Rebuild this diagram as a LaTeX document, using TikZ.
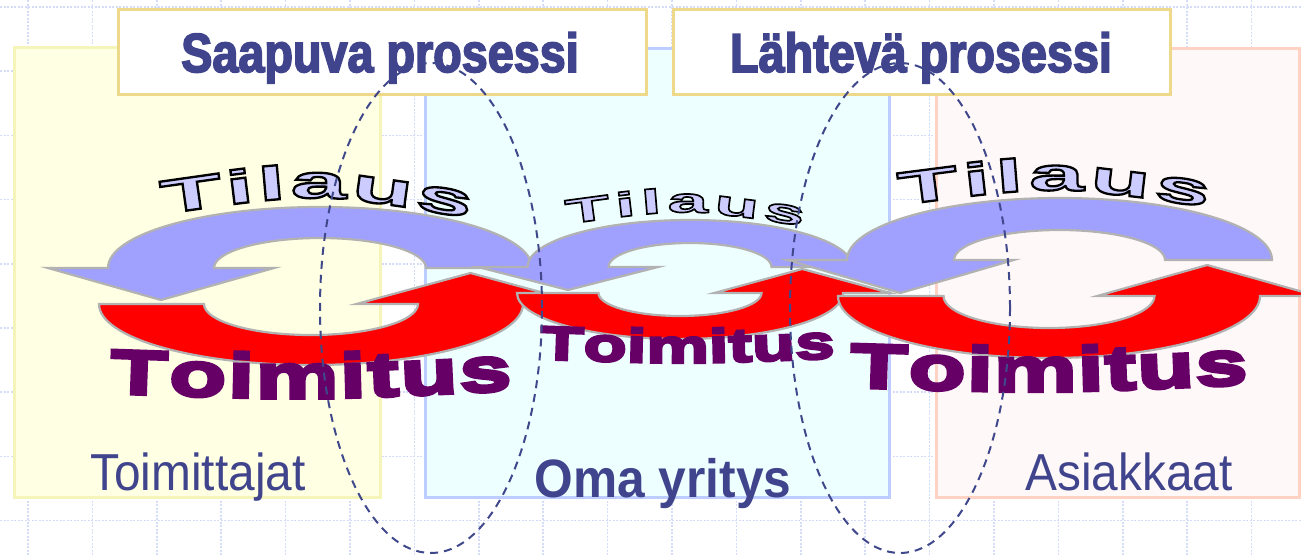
\documentclass[tikz,border=0pt]{standalone}
\usepackage{fontspec}
\usetikzlibrary{decorations.text}

\newfontfamily\titlefont[FakeStretch=0.85,FakeBold=3]{Liberation Sans}
\newfontfamily\labelfont[FakeStretch=0.92]{Liberation Sans}
\newfontfamily\tilausfont[FakeStretch=2.15,FakeBold=5]{Liberation Sans}
\newfontfamily\toimfont[FakeStretch=1.5,FakeBold=6]{Liberation Sans}

\definecolor{gridc}{RGB}{212,220,250}
\definecolor{yelfill}{RGB}{255,255,227}
\definecolor{yeledge}{RGB}{245,245,185}
\definecolor{cyanfill}{RGB}{238,255,255}
\definecolor{cyanedge}{RGB}{190,205,255}
\definecolor{pinkfill}{RGB}{255,248,248}
\definecolor{pinkedge}{RGB}{255,210,195}
\definecolor{titleedge}{RGB}{238,216,138}
\definecolor{textblue}{RGB}{64,68,140}
\definecolor{arrowblue}{RGB}{160,160,255}
\definecolor{arrowred}{RGB}{255,0,0}
\definecolor{arrowedge}{RGB}{178,178,178}
\definecolor{tilfill}{RGB}{204,204,255}
\definecolor{toifill}{RGB}{102,0,102}
\definecolor{dashc}{RGB}{64,72,140}

\tikzset{
  gridline/.style={gridc, line width=1.5pt, dash pattern=on 2pt off 1.5pt},
  area/.style={line width=3pt},
  titlebox/.style={draw=titleedge, fill=white, line width=3pt},
  titletext/.style={font=\titlefont\bfseries\fontsize{55}{55}\selectfont, text=textblue, inner sep=0pt, anchor=base},
  labeltext/.style={font=\labelfont\fontsize{52}{52}\selectfont, text=textblue, inner sep=0pt, anchor=base},
  arrowshape/.style={draw=arrowedge, line width=2.2pt, line join=miter},
  boundary/.style={dashc, line width=2pt, dash pattern=on 8pt off 6pt},
}

% upper half-ring arrow with its head on the left, pointing down
% #1 centre x, #2 base y, #3/#4 outer radii, #5/#6 inner radii, #7 head half width, #8 head depth
\newcommand\upperarrow[8]{%
  \path[arrowshape, fill=arrowblue] ({#1+#3},-#2)
    arc[start angle=0, end angle=180, x radius=#3pt, y radius=#4pt]
    -- ({#1-(#3+#5)/2-#7},-#2) -- ({#1-(#3+#5)/2},{-#2-#8})
    -- ({#1-(#3+#5)/2+#7},-#2) -- ({#1-#5},-#2)
    arc[start angle=180, end angle=0, x radius=#5pt, y radius=#6pt] -- cycle;}
% lower half-ring arrow with its head on the right, pointing up
\newcommand\lowerarrow[8]{%
  \path[arrowshape, fill=arrowred] ({#1-#3},-#2)
    arc[start angle=180, end angle=360, x radius=#3pt, y radius=#4pt]
    -- ({#1+(#3+#5)/2+#7},-#2) -- ({#1+(#3+#5)/2},{-#2+#8})
    -- ({#1+(#3+#5)/2-#7},-#2) -- ({#1+#5},-#2)
    arc[start angle=360, end angle=180, x radius=#5pt, y radius=#6pt] -- cycle;}

% outlined "Tilaus" word along a curve: #1 size, #2 path
% (lavender glyph fill, the emboldening stroke in black)
\newcommand\orderword[2]{%
  \path[decorate, decoration={text along path, text align={fit to path},
    text={|\tilausfont\bfseries\fontsize{#1}{#1}\selectfont\color{tilfill}\pgfsetstrokecolor{black}|Tilaus}}] #2;}
% "Toimitus" word along a curve
\newcommand\deliveryword[2]{%
  \path[decorate, decoration={text along path, text align={fit to path},
    text={|\toimfont\bfseries\fontsize{#1}{#1}\selectfont\color{toifill}|Toimitus}}] #2;}

\begin{document}
\begin{tikzpicture}[x=1pt, y=1pt]
\useasboundingbox (0,0) rectangle (1301,-555);
\fill[white] (0,0) rectangle (1301,-555);

% background grid
\foreach \gx in {0,...,20} \draw[gridline] ({28+64.4*\gx},0) -- ({28+64.4*\gx},-555);
\foreach \gy in {0,...,8} \draw[gridline] (0,{-7-64.2*\gy}) -- (1301,{-7-64.2*\gy});

% the three parties
\draw[area, draw=yeledge, fill=yelfill] (14,-47) rectangle (380,-497);
\draw[area, draw=cyanedge, fill=cyanfill] (425,-48) rectangle (889,-497);
\draw[area, draw=pinkedge, fill=pinkfill] (936,-48) rectangle (1299,-497);

% process headings
\node[titlebox, minimum width=528pt, minimum height=85pt] (inbox) at (382,-51.5) {};
\node[titlebox, minimum width=497pt, minimum height=85pt] (outbox) at (921.5,-51.5) {};

% order / delivery cycles
\upperarrow{320}{268}{212}{61}{106}{30}{113}{32}
\lowerarrow{311}{304}{212}{61}{107}{31}{114}{31}
\upperarrow{690}{267}{162.5}{47}{81.5}{24}{90}{23}
\lowerarrow{680}{293}{163}{46}{81.5}{23}{88}{24}
\upperarrow{1059.5}{260}{212.5}{62}{105.5}{30}{113}{33}
\lowerarrow{1049}{296}{211}{62}{105.5}{32}{110}{31}

\orderword{47}{(163,-214) .. controls (316,-192) .. (470,-218)}
\orderword{34}{(567,-224) .. controls (685,-208) .. (803,-226)}
\orderword{46}{(900,-205) .. controls (1054,-185) .. (1208,-207)}

\deliveryword{62}{(110,-393) .. controls (311,-400) .. (512,-390)}
\deliveryword{47}{(540,-359) .. controls (687,-364) .. (835,-358)}
\deliveryword{62}{(850,-387) .. controls (1049,-393) .. (1248,-384)}

% party names
\node[labeltext] (suppliers) at (198,-490) {Toimittajat};
\node[labeltext, font=\labelfont\bfseries\fontsize{54}{54}\selectfont] (company) at (663,-497) {Oma yritys};
\node[labeltext] (customers) at (1129,-490) {Asiakkaat};

% heading texts
\node[titletext] (intext) at (380,-72) {Saapuva prosessi};
\node[titletext] (outtext) at (921,-72) {Lähtevä prosessi};

% process boundaries
\draw[boundary] (431,-308) ellipse[x radius=111pt, y radius=245pt];
\draw[boundary] (900,-308) ellipse[x radius=110pt, y radius=245pt];
\end{tikzpicture}
\end{document}
